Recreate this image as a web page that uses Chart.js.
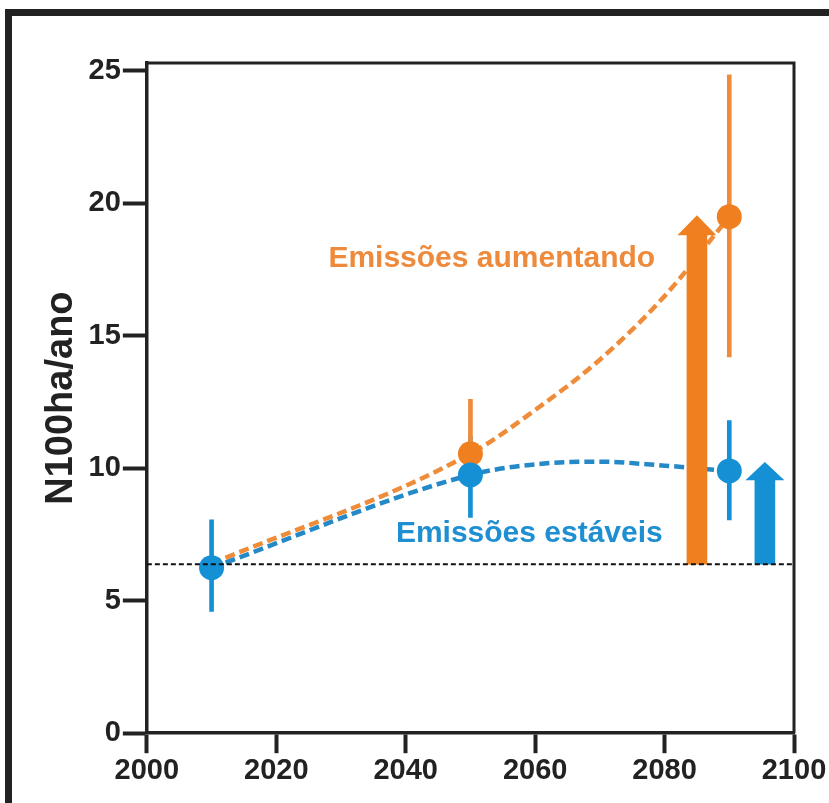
<!DOCTYPE html>
<html>
<head>
<meta charset="utf-8">
<script src="https://cdn.jsdelivr.net/npm/chart.js@4.4.1/dist/chart.umd.min.js"></script>
<style>
    html, body { margin: 0; padding: 0; background: #fff; overflow: hidden; }
    #frame { position: absolute; left: 5px; top: 9px; width: 900px; height: 900px; border: 7px solid #222; }
    #wrap { position: absolute; left: 0; top: 0; width: 829px; height: 803px; }
</style>
</head>
<body>
<div id="frame"></div>
<div id="wrap"><canvas id="chart"></canvas></div>
<script>
// Sampled years and values (stable emissions = blue)
var years = [2010, 2050, 2090];
var stableMean = [6.25, 9.75, 9.9];
var stableLow = [4.6, 8.15, 8.05];
var stableHigh = [8.05, 11.2, 11.8];

// Rising emissions (orange)
var risingYears = [2050, 2090];
var risingMean = [10.55, 19.5];
var risingLow = [9.5, 14.2];
var risingHigh = [12.6, 24.85];

// Dashed trend curves
var trendYears = [2010, 2050, 2060, 2070, 2080, 2090];
var stableTrend = [6.25, 9.75, 10.15, 10.25, 10.1, 9.9];
var risingTrend = [6.4, 10.55, 12.2, 14.1, 16.5, 19.5];

// Present-day reference level
var baseline = 6.38;

// Arrows (orange, blue)
var arrowYears = [2085, 2095.5];
var arrowNeck = [18.8, 9.55];
var arrowTip = [19.55, 10.24];

// Axis ticks
var xTicks = [2000, 2020, 2040, 2060, 2080, 2100];
var yTicks = [0, 5, 10, 15, 20, 25];

var ORANGE = '#F0801F';
var ORANGE_LINE = '#EF8C3A';
var BLUE = '#1590D4';
var BLUE_LINE = '#2489C6';
var INK = '#222';
var FONT = '"Liberation Sans", Arial, sans-serif';

// Text notes, placed in data coordinates
var notes = [
    { text: 'Emissões aumentando', x: 2053.3, y: 17.6, color: '#EE8A3C' },
    { text: 'Emissões estáveis', x: 2059.1, y: 7.21, color: '#1E8FD0' }
];

function pts(xs, ys) {
    return xs.map(function(x, i) { return { x: x, y: ys[i] }; });
}
function ranges(xs, lo, hi) {
    return xs.map(function(x, i) { return { x: x, y: [lo[i], hi[i]] }; });
}

// Draws the closed box, the arrow heads and the text notes
var extras = {
    id: 'extras',
    afterDatasetsDraw: function(chart) {
        var ctx = chart.ctx;
        var xs = chart.scales.x, ys = chart.scales.y;
        var colors = [ORANGE, BLUE];
        ctx.save();
        for (var i = 0; i < arrowYears.length; i++) {
            var x = xs.getPixelForValue(arrowYears[i]);
            var yn = ys.getPixelForValue(arrowNeck[i]);
            var yt = ys.getPixelForValue(arrowTip[i]);
            ctx.fillStyle = colors[i];
            ctx.beginPath();
            ctx.moveTo(x - 19.5, yn);
            ctx.lineTo(x + 19.5, yn);
            ctx.lineTo(x, yt);
            ctx.closePath();
            ctx.fill();
        }
        ctx.font = 'bold 30px ' + FONT;
        ctx.textAlign = 'center';
        ctx.textBaseline = 'alphabetic';
        notes.forEach(function(n) {
            ctx.fillStyle = n.color;
            ctx.fillText(n.text, xs.getPixelForValue(n.x), ys.getPixelForValue(n.y));
        });
        ctx.restore();
    },
    afterDraw: function(chart) {
        var a = chart.chartArea;
        var ctx = chart.ctx;
        ctx.save();
        ctx.strokeStyle = INK;
        ctx.lineWidth = 3;
        ctx.beginPath();
        ctx.moveTo(a.left, a.top);
        ctx.lineTo(a.right, a.top);
        ctx.lineTo(a.right, a.bottom);
        ctx.stroke();
        ctx.restore();
    }
};

var ctx = document.getElementById('chart').getContext('2d');
var chart = new Chart(ctx, {
    type: 'line',
    data: {
        datasets: [
            {
                label: 'baseline',
                data: [{ x: 2000, y: baseline }, { x: 2100, y: baseline }],
                borderColor: '#111',
                borderWidth: 2,
                borderDash: [5, 3],
                pointRadius: 0,
                order: 0
            },
            {
                type: 'scatter',
                label: 'stable',
                data: pts(years, stableMean),
                backgroundColor: BLUE,
                borderWidth: 0,
                pointRadius: 12.5,
                order: 1
            },
            {
                type: 'scatter',
                label: 'rising',
                data: pts(risingYears, risingMean),
                backgroundColor: ORANGE,
                borderWidth: 0,
                pointRadius: 12.5,
                order: 2
            },
            {
                type: 'bar',
                label: 'arrows',
                data: arrowYears.map(function(x, i) { return { x: x, y: [baseline, arrowNeck[i]] }; }),
                backgroundColor: [ORANGE, BLUE],
                barThickness: 20,
                grouped: false,
                order: 3
            },
            {
                label: 'stable trend',
                data: pts(trendYears, stableTrend),
                borderColor: BLUE_LINE,
                borderWidth: 4.5,
                borderDash: [10, 5],
                pointRadius: 0,
                cubicInterpolationMode: 'monotone',
                order: 4
            },
            {
                label: 'rising trend',
                data: pts(trendYears, risingTrend),
                borderColor: ORANGE_LINE,
                borderWidth: 4.5,
                borderDash: [10, 5],
                pointRadius: 0,
                cubicInterpolationMode: 'monotone',
                order: 5
            },
            {
                type: 'bar',
                label: 'rising error',
                data: ranges(risingYears, risingLow, risingHigh),
                backgroundColor: ORANGE_LINE,
                barThickness: 4,
                grouped: false,
                order: 6
            },
            {
                type: 'bar',
                label: 'stable error',
                data: ranges(years, stableLow, stableHigh),
                backgroundColor: BLUE,
                barThickness: 4,
                grouped: false,
                order: 7
            }
        ]
    },
    options: {
        responsive: true,
        maintainAspectRatio: false,
        animation: false,
        layout: { padding: { top: 63, right: 35, left: 39, bottom: 15 } },
        plugins: {
            legend: { display: false },
            tooltip: { enabled: false }
        },
        scales: {
            x: {
                type: 'linear',
                min: 2000,
                max: 2100,
                offset: false,
                afterBuildTicks: function(scale) {
                    scale.ticks = xTicks.map(function(v) { return { value: v }; });
                },
                ticks: {
                    color: INK,
                    padding: 0,
                    maxRotation: 0,
                    autoSkip: false,
                    font: { family: FONT, size: 29, weight: 'bold' },
                    callback: function(value) { return String(value); }
                },
                grid: {
                    drawOnChartArea: false,
                    offset: false,
                    tickLength: 20,
                    tickWidth: 4,
                    tickColor: INK
                },
                border: { width: 3.5, color: INK }
            },
            y: {
                type: 'linear',
                min: 0,
                max: 25.3,
                afterBuildTicks: function(scale) {
                    scale.ticks = yTicks.map(function(v) { return { value: v }; });
                },
                ticks: {
                    color: INK,
                    padding: 2,
                    font: { family: FONT, size: 29, weight: 'bold' },
                    callback: function(value) { return String(value); }
                },
                grid: {
                    drawOnChartArea: false,
                    tickLength: 24,
                    tickWidth: 4,
                    tickColor: INK
                },
                border: { width: 3.5, color: INK },
                title: {
                    display: true,
                    text: 'N100ha/ano',
                    color: INK,
                    font: { family: FONT, size: 38, weight: 'bold' },
                    padding: { top: 0, bottom: 2 }
                }
            }
        }
    },
    plugins: [extras]
});
</script>
</body>
</html>
